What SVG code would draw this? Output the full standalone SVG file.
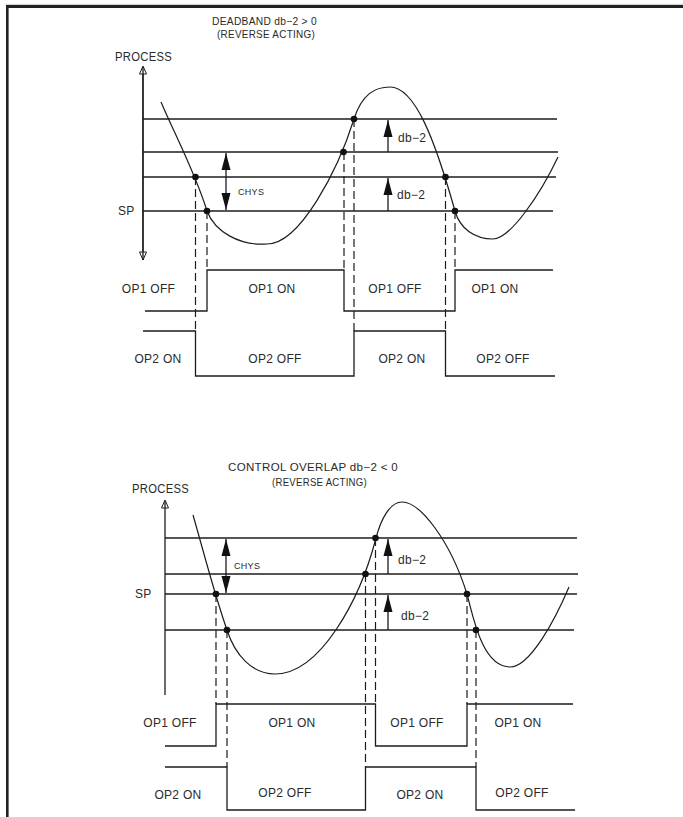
<svg xmlns="http://www.w3.org/2000/svg" width="683" height="817" viewBox="0 0 683 817">
<style>
.ln{stroke:#1c1c1c;stroke-width:1.3;fill:none}
.cv{stroke:#1c1c1c;stroke-width:1.2;fill:none}
.ds{stroke:#1c1c1c;stroke-width:1.2;fill:none;stroke-dasharray:8,4}
.ax{stroke:#1c1c1c;stroke-width:1.3;fill:none}
.ha{stroke:#1c1c1c;stroke-width:1;fill:#fff}
.dt{fill:#111}
.ar{stroke:#1c1c1c;stroke-width:1.3;fill:none;marker-end:url(#fa)}
.ar2{stroke:#1c1c1c;stroke-width:1.3;fill:none;marker-start:url(#fa);marker-end:url(#fa)}
text{font-family:"Liberation Sans",Arial,sans-serif;fill:#2a2a2a;font-size:12px;letter-spacing:0.3px}
.ti{font-size:10.5px}
.sm{font-size:9px}
.mid{text-anchor:middle}
</style>
<defs>
<marker id="fa" markerUnits="userSpaceOnUse" markerWidth="18" markerHeight="10" viewBox="0 -5 18 10" refX="17" refY="0" orient="auto-start-reverse">
<path d="M0,-4.5 L17,0 L0,4.5 z" fill="#111"/>
</marker>
</defs>
<rect width="683" height="817" fill="#fff"/>
<g id="frame">
<rect x="6" y="3.8" width="677" height="1.2" fill="#d8d8d8"/>
<rect x="6" y="5" width="677" height="3" fill="#222"/>
<rect x="6" y="5" width="2.6" height="812" fill="#222"/>
</g>

<!-- TOP DIAGRAM -->
<g id="top-title">
<text x="264.5" y="25" class="mid ti" textLength="105" lengthAdjust="spacingAndGlyphs">DEADBAND db−2 &gt; 0</text>
<text x="266" y="38" class="mid ti" textLength="98" lengthAdjust="spacingAndGlyphs">(REVERSE ACTING)</text>
</g>
<g id="top-axis">
<text x="115" y="61" textLength="57" lengthAdjust="spacingAndGlyphs">PROCESS</text>
<line class="ax" x1="143" y1="67" x2="143" y2="260"/>
<polygon class="ha" points="143,66 139.5,74 146.5,74"/>
<polygon class="ha" points="143,260 139.5,252 146.5,252"/>
<line class="ax" x1="143" y1="67" x2="143" y2="260"/>
<text x="118" y="215">SP</text>
</g>
<g id="top-levels">
<line class="ln" x1="143" y1="119" x2="557" y2="119"/>
<line class="ln" x1="143" y1="152" x2="558" y2="152"/>
<line class="ln" x1="143" y1="177" x2="556" y2="177"/>
<line class="ln" x1="143" y1="211" x2="553" y2="211"/>
</g>
<g id="top-curve">
<path class="cv" d="M161,102 C175,135 195,172 207,211 C215,232 240,246 267,244 C300,244 338,170 354,119 C362,94 375,87 390,87 C415,87 435,140 455,211 C460,229 475,239 493,239 C510,239 540,195 558,157"/>
</g>
<g id="top-dashes">
<line class="ds" x1="195.5" y1="177" x2="195.5" y2="331"/>
<line class="ds" x1="207" y1="211" x2="207" y2="270"/>
<line class="ds" x1="344" y1="152" x2="344" y2="270"/>
<line class="ds" x1="354" y1="119" x2="354" y2="331"/>
<line class="ds" x1="445.5" y1="177" x2="445.5" y2="331"/>
<line class="ds" x1="455" y1="211" x2="455" y2="270"/>
</g>
<g id="top-dots">
<circle class="dt" cx="195.5" cy="177" r="3.3"/>
<circle class="dt" cx="207" cy="211" r="3.3"/>
<circle class="dt" cx="343.5" cy="152" r="3.3"/>
<circle class="dt" cx="354" cy="119" r="3.3"/>
<circle class="dt" cx="445.5" cy="177" r="3.3"/>
<circle class="dt" cx="455" cy="211" r="3.3"/>
</g>
<g id="top-chys">
<line class="ar2" x1="226" y1="153" x2="226" y2="210"/>
<text x="238" y="195" class="sm">CHYS</text>
</g>
<g id="top-db2">
<line class="ar" x1="388" y1="152" x2="388" y2="120"/>
<text x="398" y="142">db−2</text>
<line class="ar" x1="388" y1="211" x2="388" y2="178"/>
<text x="397" y="199">db−2</text>
</g>
<g id="top-op1">
<path class="ln" d="M145,311 H207 V270 H344 V311 H455 V270 H553"/>
<text x="148.5" y="293" class="mid">OP1 OFF</text>
<text x="272" y="293" class="mid">OP1 ON</text>
<text x="395" y="293" class="mid">OP1 OFF</text>
<text x="495" y="293" class="mid">OP1 ON</text>
</g>
<g id="top-op2">
<path class="ln" d="M143,331 H195.5 V376 H354 V331 H445.5 V376 H555"/>
<text x="158" y="363" class="mid">OP2 ON</text>
<text x="275" y="363" class="mid">OP2 OFF</text>
<text x="402" y="363" class="mid">OP2 ON</text>
<text x="503" y="363" class="mid">OP2 OFF</text>
</g>

<!-- BOTTOM DIAGRAM -->
<g id="bot-title">
<text x="313" y="471" class="mid ti" textLength="170" lengthAdjust="spacingAndGlyphs">CONTROL OVERLAP db−2 &lt; 0</text>
<text x="319.5" y="486" class="mid ti" textLength="95" lengthAdjust="spacingAndGlyphs">(REVERSE ACTING)</text>
</g>
<g id="bot-axis">
<text x="132" y="493" textLength="57" lengthAdjust="spacingAndGlyphs">PROCESS</text>
<polygon class="ha" points="165,500 161.5,508 168.5,508"/>
<line class="ax" x1="165" y1="501" x2="165" y2="695"/>
<text x="135" y="598">SP</text>
</g>
<g id="bot-levels">
<line class="ln" x1="165" y1="538" x2="577" y2="538"/>
<line class="ln" x1="165" y1="574" x2="578" y2="574"/>
<line class="ln" x1="165" y1="594" x2="577" y2="594"/>
<line class="ln" x1="165" y1="630" x2="574" y2="630"/>
</g>
<g id="bot-curve">
<path class="cv" d="M193,515 C204,553 214,593 227,630 C235,655 252,674 275,674 C320,674 360,600 376,538 C381,519 390,502 402,502 C420,502 450,540 467,594 C473,616 482,667 510,667 C530,667 555,620 569,587"/>
</g>
<g id="bot-dashes">
<line class="ds" x1="216" y1="594" x2="216" y2="704"/>
<line class="ds" x1="227" y1="630" x2="227" y2="767"/>
<line class="ds" x1="365.5" y1="574" x2="365.5" y2="767"/>
<line class="ds" x1="375.5" y1="538" x2="375.5" y2="704"/>
<line class="ds" x1="467" y1="594" x2="467" y2="704"/>
<line class="ds" x1="476" y1="630" x2="476" y2="767"/>
</g>
<g id="bot-dots">
<circle class="dt" cx="216" cy="594" r="3.3"/>
<circle class="dt" cx="227" cy="630" r="3.3"/>
<circle class="dt" cx="365.5" cy="574" r="3.3"/>
<circle class="dt" cx="375.5" cy="538" r="3.3"/>
<circle class="dt" cx="467" cy="594" r="3.3"/>
<circle class="dt" cx="476" cy="630" r="3.3"/>
</g>
<g id="bot-chys">
<line class="ar2" x1="226" y1="539" x2="226" y2="593"/>
<text x="234" y="569" class="sm">CHYS</text>
</g>
<g id="bot-db2">
<line class="ar" x1="388" y1="574" x2="388" y2="539"/>
<text x="398" y="564">db−2</text>
<line class="ar" x1="388" y1="630" x2="388" y2="595"/>
<text x="401" y="620">db−2</text>
</g>
<g id="bot-op1">
<path class="ln" d="M165,746 H216 V704 H375.5 V746 H467 V704 H573"/>
<text x="170" y="727" class="mid">OP1 OFF</text>
<text x="292" y="727" class="mid">OP1 ON</text>
<text x="417" y="727" class="mid">OP1 OFF</text>
<text x="518" y="727" class="mid">OP1 ON</text>
</g>
<g id="bot-op2">
<path class="ln" d="M165,767 H227 V810 H365.5 V767 H476 V810 H575"/>
<text x="178" y="799" class="mid">OP2 ON</text>
<text x="285" y="797" class="mid">OP2 OFF</text>
<text x="420" y="799" class="mid">OP2 ON</text>
<text x="522" y="797" class="mid">OP2 OFF</text>
</g>
</svg>
